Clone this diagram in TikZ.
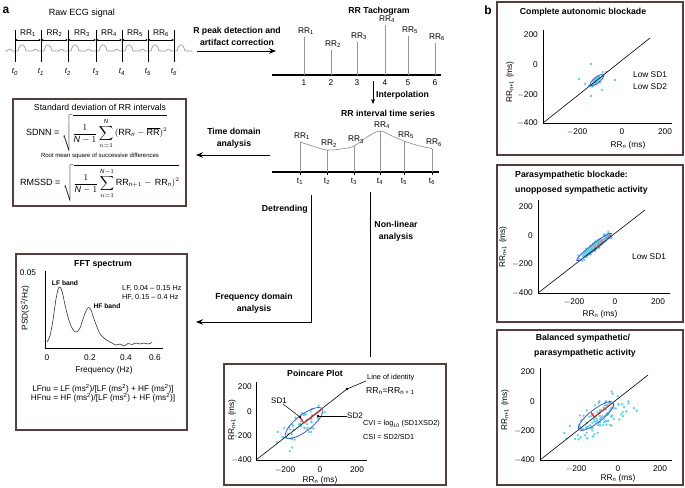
\documentclass[tikz,border=0pt]{standalone}
\usepackage{fontspec}
\setmainfont{Liberation Sans}
\usetikzlibrary{arrows.meta}
\definecolor{boxc}{RGB}{85,62,62}
\definecolor{dotc}{RGB}{95,208,222}
\definecolor{ellc}{RGB}{70,85,205}
\definecolor{redc}{RGB}{225,40,40}
\definecolor{grayl}{RGB}{150,150,150}
\newcommand{\myscatter}[6]{%
  \foreach \k in {1,...,#5}{%
    \pgfmathsetmacro\ua{#3*(rand+rand)/2}%
    \pgfmathsetmacro\ub{#4*(rand+rand)/2}%
    \fill[dotc] ({#1+\ua*cos(#6)-\ub*sin(#6)},{#2-\ua*sin(#6)-\ub*cos(#6)}) circle (1.3);}}
\tikzset{
  panel/.style={draw=boxc, line width=1.1pt},
  lbl/.style={font=\fontsize{8.7}{12}\selectfont\bfseries, align=center, inner sep=0},
  tlab/.style={font=\fontsize{8.3}{9.5}\selectfont, inner sep=0},
  small/.style={font=\fontsize{7.3}{8.5}\selectfont, inner sep=0},
  bigarrow/.style={-{Stealth[length=7pt,width=5.5pt]}, line width=0.9pt},
  rrarrow/.style={{Stealth[length=2.5pt,width=2.2pt]}-{Stealth[length=2.5pt,width=2.2pt]}, line width=0.5pt},
  axisl/.style={line width=0.7pt},
  idline/.style={line width=0.6pt},
  ell/.style={draw=ellc, line width=0.8pt},
  redl/.style={draw=redc, line width=1pt},
}
\begin{document}
\begin{tikzpicture}[x=1pt,y=-1pt, font=\fontsize{8.3}{9.5}\selectfont]
\useasboundingbox (0,0) rectangle (685,487);
\pgfmathsetseed{4321}
% panel letters
\node[font=\fontsize{12}{12}\selectfont\bfseries, inner sep=0] (pa) at (6,10) {a};
\node[font=\fontsize{12}{12}\selectfont\bfseries, inner sep=0] (pb) at (488,10) {b};

% ---------- Raw ECG ----------
\node[font=\fontsize{9}{10}\selectfont, inner sep=0] (ecgt) at (82,13) {Raw ECG signal};
\draw[grayl, line width=0.6pt] (5,51) -- (7,51) .. controls (8.5,48.5) and (10.5,48.5) .. (12,51)
  \foreach \b in {15,41,68,96,122,148} { -- (\b+3,51) .. controls (\b+5,42.5) and (\b+9,42.5) .. (\b+11,51) -- (\b+18,51) .. controls (\b+19.5,48.5) and (\b+21.5,48.5) .. (\b+23,51) }
  -- (177,51) .. controls (179,42.5) and (183,42.5) .. (185,51) -- (192,51);
\foreach \b [count=\i from 0] in {15,41,68,96,122,148,174} {
  \draw[line width=0.6pt] (\b,30) -- (\b,62);
  \node[font=\fontsize{8}{9}\selectfont\itshape, inner sep=0] (t\i) at (\b,72) {t\textsubscript{\i}};
}
\foreach \a/\b/\i in {15/41/1,41/68/2,68/96/3,96/122/4,122/148/5,148/174/6} {
  \coordinate (ra\i) at (\a,40); \coordinate (rb\i) at (\b,40);
  \draw[rrarrow] (ra\i) -- (rb\i);
  \node[tlab] (rrl\i) at ({(\a+\b)/2},33) {RR\textsubscript{\i}};
}

% ---------- R peak detection arrow ----------
\node[lbl] (rpk) at (237,36) {R peak detection and\\artifact correction};
\coordinate (rpA) at (197,51); \coordinate (rpB) at (276,51);
\draw[bigarrow] (rpA) -- (rpB);

% ---------- RR Tachogram ----------
\node[lbl] (tacht) at (379,11) {RR Tachogram};
\coordinate (tax1) at (272,75); \coordinate (tax2) at (441,75);
\draw[line width=1.2pt] (tax1) -- (tax2);
\foreach \x/\top/\i in {304/37/1, 331/50/2, 357/42/3, 385/25/4, 408/36/5, 435/43/6} {
  \draw[grayl, line width=0.7pt] (\x,75) -- (\x,\top);
  \node[tlab] (tk\i) at (\x,83) {\i};
  \node[tlab, anchor=south] (tr\i) at (\x+2,\top-2) {RR\textsubscript{\i}};
}
% interpolation
\coordinate (ipA) at (373,81); \coordinate (ipB) at (373,104);
\draw[-{Stealth[length=5pt,width=4pt]}, line width=0.7pt] (ipA) -- (ipB);
\node[lbl, anchor=west] (ipl) at (376,95) {Interpolation};

% ---------- RR interval time series ----------
\node[lbl] (tst) at (388,113) {RR interval time series};
\coordinate (tsx1) at (272,172); \coordinate (tsx2) at (439,172);
\draw[line width=1.2pt] (tsx1) -- (tsx2);
\draw[grayl, line width=0.7pt] plot[smooth, tension=0.6] coordinates {(300,142) (314,146.5) (327,150) (341,149) (354,146) (367,137) (380,131) (392,136) (404,141) (418,145.5) (432,148.5)};
\foreach \x/\top/\i in {300/142/1, 327/150/2, 354/146/3, 380/131/4, 404/141/5, 432/149/6} {
  \draw[grayl, line width=0.7pt] (\x,172) -- (\x,\top);
  \draw[line width=0.5pt] (\x,172) -- (\x,174.5);
  \node[tlab] (ts\i) at (\x,181) {t\textsubscript{\i}};
  \node[tlab, anchor=south] (tsr\i) at (\x+2,\top-2.5) {RR\textsubscript{\i}};
}

% ---------- Time domain ----------
\node[lbl] (tdl) at (234,138) {Time domain\\analysis};
\coordinate (tdA) at (270,155); \coordinate (tdB) at (196,155);
\draw[bigarrow] (tdA) -- (tdB);

\draw[panel] (13,99) rectangle (186,206);
\node[font=\fontsize{8.7}{10}\selectfont, inner sep=0] (sdt) at (100,107) {Standard deviation of RR intervals};
\node[anchor=west, inner sep=0, font=\fontsize{9}{10}\selectfont] (sdnn) at (26,133)
  {SDNN = $\sqrt{\displaystyle\frac{1}{\mathit{N}-1}\sum_{n=1}^{\mathit{N}}\,(\mathrm{RR}_{\mathit{n}}-\overline{\mathrm{RR}})^{2}}$};
\node[inner sep=0, font=\fontsize{6}{7}\selectfont] (rmt) at (100,156) {Root mean square of successive differences};
\node[anchor=west, inner sep=0, font=\fontsize{9}{10}\selectfont] (rmssd) at (20,183)
  {RMSSD = $\sqrt{\displaystyle\frac{1}{\mathit{N}-1}\sum_{n=1}^{\mathit{N}-1}\mathrm{RR}_{\mathit{n}+1}-\,\mathrm{RR}_{\mathit{n}})^{2}}$};

% ---------- Detrending / frequency ----------
\node[lbl, anchor=east] (dtl) at (308,209) {Detrending};
\coordinate (dtA) at (311,195); \coordinate (dtC) at (311,322); \coordinate (dtB) at (196,322);
\draw[bigarrow] (dtA) -- (dtC) -- (dtB);
\node[lbl] (fdl) at (254,303) {Frequency domain\\analysis};

% ---------- Non-linear ----------
\coordinate (nlA) at (370,192); \coordinate (nlB) at (370,357);
\draw[line width=0.9pt] (nlA) -- (nlB);
\node[lbl] (nll) at (396,231) {Non-linear\\analysis};

% ---------- FFT box ----------
\draw[panel] (16,254) rectangle (187,430);
\node[lbl] (fftt) at (103,264) {FFT spectrum};
\draw[axisl] (45,271) -- (45,348) -- (163,348);
\node[tlab] (f005) at (28,273) {0.05};
\node[tlab, rotate=90] (fyl) at (25,308) {PSD(S\textsuperscript{2}/Hz)};
\foreach \x/\t/\i in {47/0/1, 90/0.2/2, 126/0.4/3, 155/0.6/4} {
  \node[tlab] (fx\i) at (\x,358) {\t};
}
\node[tlab] (fxl) at (104,370) {Frequency (Hz)};
\draw[line width=0.6pt, black!80] plot[smooth, tension=0.45] coordinates {(47,342) (50,336) (53,320) (56,299) (58.5,288) (60.5,287.5) (62.5,293) (65,305) (68,317) (71,326) (74,331) (77,332) (80,328) (83,319) (86,311) (88.5,307.5) (91,310) (94,319) (97,327) (100,334) (104,338) (108,341) (112,343) (116,345) (120,344) (124,346) (128,343.5) (132,344.5) (136,343) (140,344) (144,343) (148,344) (152,342.5)};
\node[font=\fontsize{6.7}{8}\selectfont\bfseries, inner sep=0] (lfb) at (65,283) {LF band};
\node[font=\fontsize{6.7}{8}\selectfont\bfseries, inner sep=0] (hfb) at (107,306) {HF band};
\node[small, anchor=west] (lfr) at (122,288) {LF, 0.04 -- 0.15 Hz};
\node[small, anchor=west] (hfr) at (122,297.5) {HF, 0.15 -- 0.4 Hz};
\node[font=\fontsize{8.2}{9.5}\selectfont, inner sep=0, align=center] (lfnu) at (103,393.5)
  {LFnu = LF (ms\textsuperscript{2})/[LF (ms\textsuperscript{2}) + HF (ms\textsuperscript{2})]\\HFnu = HF (ms\textsuperscript{2})/[LF (ms\textsuperscript{2}) + HF (ms\textsuperscript{2})]};

% ---------- Poincare box ----------
\draw[panel] (224,364) rectangle (446,485);
\node[lbl] (pct) at (315,373) {Poincare Plot};
\myscatter{303}{423}{34}{16}{50}{38}
\draw[axisl] (256,382) -- (256,460) -- (367,460);
\foreach \y/\t/\i in {387/200/1, 412/0/2, 436/$-$200/3, 460/$-$400/4} {
  \node[tlab, anchor=east] (py\i) at (252,\y) {\t};
}
\foreach \x/\t/\i in {285/$-$200/1, 320/0/2, 357/200/3} {
  \node[tlab] (px\i) at (\x,470) {\t};
}
\node[tlab] (pxl) at (320,480.5) {RR\textsubscript{n} (ms)};
\node[tlab, rotate=90] (pyl) at (232,420) {RR\textsubscript{n+1} (ms)};
\coordinate (pO) at (256,460); \coordinate (pD) at (347,389); \coordinate (pL) at (366,381);
\draw[idline] (pO) -- (pD) -- (pL);
\fill (pD) circle (1.3);
\node[small, anchor=west] (loi) at (367,378) {Line of identity};
\node[font=\fontsize{8.7}{10}\selectfont, inner sep=0, anchor=west] (rreq) at (366,391) {RR\textsubscript{n}=RR\textsubscript{n + 1}};
\draw[ell, rotate around={38:(304,423)}] (304,423) ellipse [x radius=23, y radius=8];
\coordinate (pC) at (304,423); \coordinate (pS2) at (321,410); \coordinate (pS1) at (300,417.5);
\draw[redl] (pS1) -- (pC) -- (pS2);
\coordinate (pd1) at (300,417); \coordinate (pd2) at (318,416);
\fill (pd1) circle (1.3); \fill (pd2) circle (1.3);
\node[font=\fontsize{8}{9}\selectfont, inner sep=0] (sd1) at (279,401) {SD1};
\node[font=\fontsize{8}{9}\selectfont, inner sep=0, anchor=west] (sd2) at (347,416) {SD2};
\draw[line width=0.5pt] (sd1) -- (pd1);
\draw[line width=0.5pt] (pd2) -- (sd2);
\node[small, anchor=west] (cvi) at (363,424) {CVI = log\textsubscript{10} (SD1XSD2)};
\node[small, anchor=west] (csi) at (363,437) {CSI = SD2/SD1};

% ---------- Panel b box 1 ----------
\draw[panel] (497,2) rectangle (683,155);
\node[lbl] (b1t) at (583,12) {Complete autonomic blockade};
\myscatter{597}{80}{10}{4}{50}{38}
\foreach \p in {(591,64),(579,79),(615,80),(602,90),(591,96),(585,84),(606,72)} { \fill[dotc] \p circle (1.3); }
\draw[axisl] (543,30) -- (543,123) -- (672,123);
\foreach \y/\t/\i in {35/200/1, 65/0/2, 95/$-$200/3, 123/$-$400/4} { \node[tlab, anchor=east] (b1y\i) at (538,\y) {\t}; }
\foreach \x/\t/\i in {577/$-$200/1, 622/0/2, 665/200/3} { \node[tlab] (b1x\i) at (\x,132) {\t}; }
\node[tlab] (b1xl) at (628,145) {RR\textsubscript{n} (ms)};
\node[tlab, rotate=90] (b1yl) at (510,82) {RR\textsubscript{n+1} (ms)};
\coordinate (b1O) at (543,123); \coordinate (b1E) at (650,38);
\draw[idline] (b1O) -- (b1E);
\draw[ell, rotate around={38:(597,80)}] (597,80) ellipse [x radius=8, y radius=3];
\node[tlab, anchor=west] (b1a) at (633,75) {Low SD1};
\node[tlab, anchor=west] (b1b) at (633,87) {Low SD2};

% ---------- Panel b box 2 ----------
\draw[panel] (497,165) rectangle (683,322);
\node[lbl, anchor=west] (b2t1) at (515,175) {Parasympathetic blockade:};
\node[lbl, anchor=west] (b2t2) at (515,190) {unopposed sympathetic activity};
\myscatter{594}{247}{24}{4.5}{120}{38}
\draw[axisl] (538,200) -- (538,293) -- (670,293);
\foreach \y/\t/\i in {207/200/1, 236/0/2, 264/$-$200/3, 293/$-$400/4} { \node[tlab, anchor=east] (b2y\i) at (533,\y) {\t}; }
\foreach \x/\t/\i in {574/$-$200/1, 615/0/2, 658/200/3} { \node[tlab] (b2x\i) at (\x,302) {\t}; }
\node[tlab] (b2xl) at (600,314) {RR\textsubscript{n} (ms)};
\node[tlab, rotate=90] (b2yl) at (503,247) {RR\textsubscript{n+1} (ms)};
\coordinate (b2O) at (538,293); \coordinate (b2E) at (645,210);
\draw[idline] (b2O) -- (b2E);
\draw[ell, rotate around={38:(594,247)}] (594,247) ellipse [x radius=22, y radius=3];
\coordinate (b2C) at (594,247); \coordinate (b2S) at (610,235);
\draw[redc!70, line width=0.8pt] (b2C) -- (b2S);
\node[tlab, anchor=west] (b2a) at (632,257) {Low SD1};

% ---------- Panel b box 3 ----------
\draw[panel] (497,330) rectangle (683,485);
\node[lbl] (b3t1) at (583,338) {Balanced sympathetic/};
\node[lbl] (b3t2) at (585,353) {parasympathetic activity};
\myscatter{600}{418}{42}{18}{110}{38}
\draw[axisl] (540,368) -- (540,460) -- (672,460);
\foreach \y/\t/\i in {372/200/1, 402/0/2, 431/$-$200/3, 460/$-$400/4} { \node[tlab, anchor=east] (b3y\i) at (535,\y) {\t}; }
\foreach \x/\t/\i in {576/$-$200/1, 618/0/2, 660/200/3} { \node[tlab] (b3x\i) at (\x,469) {\t}; }
\node[tlab] (b3xl) at (618,478) {RR\textsubscript{n} (ms)};
\node[tlab, rotate=90] (b3yl) at (505,410) {RR\textsubscript{n+1} (ms)};
\coordinate (b3O) at (540,460); \coordinate (b3E) at (648,375);
\draw[idline] (b3O) -- (b3E);
\draw[ell, rotate around={38:(596,416)}] (596,416) ellipse [x radius=22, y radius=6.5];
\coordinate (b3C) at (594,417); \coordinate (b3S) at (611,404); \coordinate (b3P) at (591,412.5);
\draw[redl] (b3P) -- (b3C) -- (b3S);
\end{tikzpicture}
\end{document}
